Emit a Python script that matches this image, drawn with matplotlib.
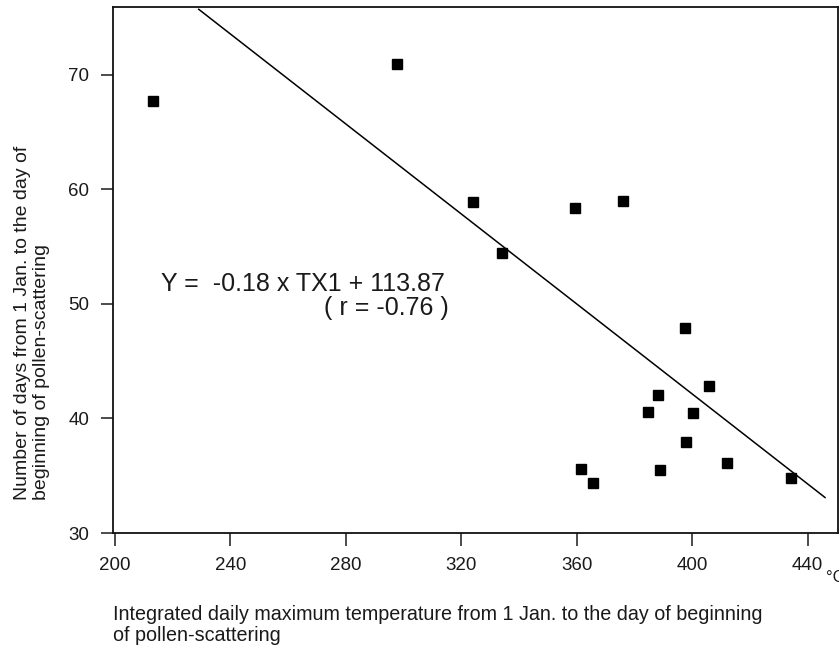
#!/usr/bin/env python3

"""Days to beginning of pollen scattering vs integrated daily max temperature."""

import matplotlib
matplotlib.use("Agg")
import matplotlib.pyplot as plt

# Observed points (integrated temperature, days from 1 Jan.)
temp_sum = [213.0, 297.7, 324.1, 334.2, 359.5, 376.1, 397.5, 405.9, 388.0,
            384.5, 400.2, 398.0, 361.5, 365.5, 388.7, 411.9, 434.2]
days = [67.7, 70.9, 58.9, 54.4, 58.4, 59.0, 47.9, 42.8, 42.0,
        40.6, 40.5, 37.9, 35.6, 34.4, 35.5, 36.1, 34.8]

# Regression line end points as drawn in the figure
fit_x = [229.0, 446.0]
fit_y = [75.7, 33.1]

x_ticks = [200, 240, 280, 320, 360, 400, 440]
y_ticks = [30, 40, 50, 60, 70]

plt.rcParams['font.family'] = ['Liberation Sans', 'DejaVu Sans']

fig = plt.figure(figsize=(8.39, 6.45), dpi=100)
ax = fig.add_axes([113 / 839, 1 - 533 / 645, 725 / 839, 526 / 645])

ax.plot(temp_sum, days, 'ks', markersize=7.2, linestyle='none')
ax.plot(fit_x, fit_y, 'k-', linewidth=1.1)

ax.set_xlim(199.3, 450.5)
ax.set_ylim(30, 75.9)
ax.set_xticks(x_ticks)
ax.set_yticks(y_ticks)
ax.tick_params(axis='x', direction='out', length=9, width=1.1, pad=8,
               labelsize=13.5, colors='#1a1a1a')
ax.tick_params(axis='y', direction='out', length=9, width=1.1, pad=8,
               labelsize=13.5, colors='#1a1a1a')
for spine in ax.spines.values():
    spine.set_linewidth(1.3)
    spine.set_color('#111111')

ax.set_xlabel('Integrated daily maximum temperature from 1 Jan. to the day of beginning\n'
              'of pollen-scattering', fontsize=14.2, ha='left', va='top',
              multialignment='left', linespacing=1.12, color='#1a1a1a')
ax.xaxis.set_label_coords(0.0, -0.137)

ax.set_ylabel('Number of days from 1 Jan. to the day of\n'
              'beginning of pollen-scattering', fontsize=14,
              multialignment='left', linespacing=1.12, color='#1a1a1a')
ax.yaxis.set_label_coords(-0.087, 0.40)

ax.text(0.983, -0.084, '°C', transform=ax.transAxes, fontsize=12,
        ha='left', va='center', color='#1a1a1a', clip_on=False)

ax.text(0.066, 0.46, 'Y =  -0.18 x TX1 + 113.87', transform=ax.transAxes,
        fontsize=18, ha='left', va='baseline', color='#1a1a1a')
ax.text(0.463, 0.4144, '( r = -0.76 )', transform=ax.transAxes,
        fontsize=18, ha='right', va='baseline', color='#1a1a1a')

fig.savefig('out.png', dpi=100)
